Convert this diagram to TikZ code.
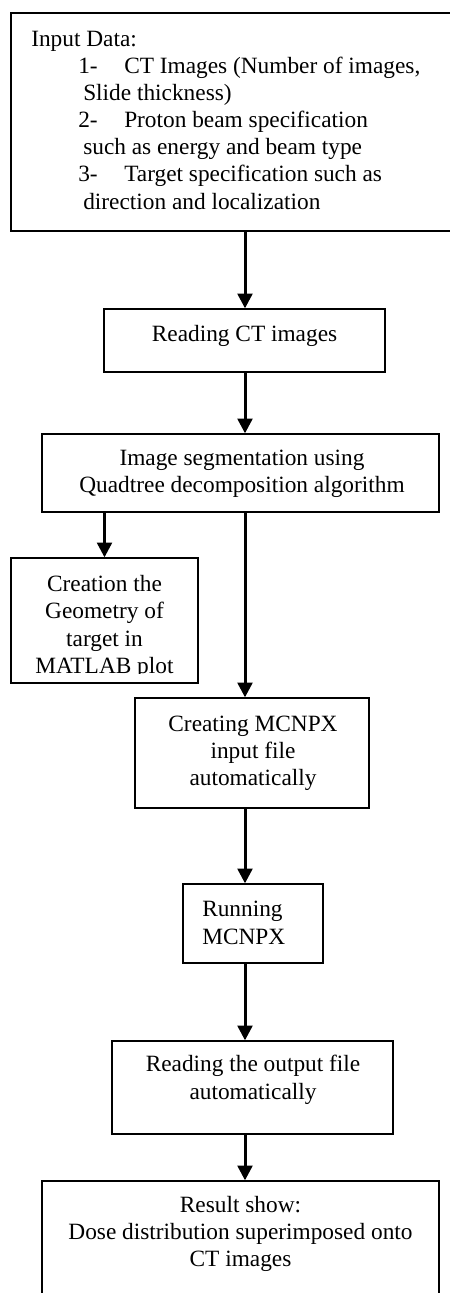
\documentclass[tikz,border=0pt]{standalone}
\usepackage{fontspec}
\setmainfont{Liberation Serif}
\usetikzlibrary{arrows.meta,fit}

\newcommand{\inputitem}[2]{\hspace*{35.25pt}\makebox[34.5pt][l]{#1}#2}
\newcommand{\inputmore}[1]{\hspace*{39pt}#1}

\tikzset{
  box/.style={draw, line width=1pt, inner sep=0pt},
  txt/.style={font=\fontsize{17.5}{20.5}\selectfont, align=center, inner sep=0pt},
  flow/.style={line width=2.25pt, -{Triangle[width=11pt,length=11pt]}}
}

\begin{document}
\begin{tikzpicture}[x=0.75pt, y=-0.75pt]
\useasboundingbox (0,0) rectangle (450,1293);
\coordinate (spine) at (245,0);

% boxes
\node[box, fit={(11,13) (470,231)}] (input) {};
\node[box, fit={(104,309) (385,372)}] (read) {};
\node[box, fit={(42,434) (439,512)}] (seg) {};
\node[box, fit={(11,558) (198,683)}] (geom) {};
\node[box, fit={(135,698) (369,808)}] (mcnp) {};
\node[box, fit={(183,884) (323,963)}] (run) {};
\node[box, fit={(112,1041) (393,1134)}] (output) {};
\node[box, fit={(42,1181) (439,1320)}] (result) {};

% texts (anchored at the baseline of the last line)
\node[txt, align=left, anchor=base west, font=\fontsize{17.5}{20.3}\selectfont] (inputtxt) at (31,209)
  {Input Data:\\
   \inputitem{1-}{CT Images (Number of images,}\\
   \inputmore{Slide thickness)}\\
   \inputitem{2-}{Proton beam specification}\\
   \inputmore{such as energy and beam type}\\
   \inputitem{3-}{Target specification such as}\\
   \inputmore{direction and localization}};
\node[txt, anchor=base] (readtxt) at (244.5,341.7) {Reading CT images};
\node[txt, anchor=base] (segtxt) at (242,492.7) {Image segmentation using\\Quadtree decomposition algorithm};
\begin{scope}
  \clip (11,558) rectangle (198,673);
  \node[txt, anchor=base] (geomtxt) at (104.5,673.5) {Creation the\\Geometry of\\target in\\MATLAB plot};
\end{scope}
\node[txt, anchor=base] (mcnptxt) at (253,785.7) {Creating MCNPX\\input file\\automatically};
\node[txt, align=left, anchor=base west] (runtxt) at (202,944.3) {Running\\MCNPX};
\node[txt, anchor=base] (outputtxt) at (253,1099.3) {Reading the output file\\automatically};
\node[txt, anchor=base] (resulttxt) at (240.5,1266.7) {Result show:\\Dose distribution superimposed onto\\CT images};

% arrows
\draw[flow] (input.south -| spine) -- (read.north -| spine);
\draw[flow] (read.south -| spine) -- (seg.north -| spine);
\draw[flow] (seg.south -| geom.north) -- (geom.north);
\draw[flow] (seg.south -| spine) -- (mcnp.north -| spine);
\draw[flow] (mcnp.south -| spine) -- (run.north -| spine);
\draw[flow] (run.south -| spine) -- (output.north -| spine);
\draw[flow] (output.south -| spine) -- (result.north -| spine);
\end{tikzpicture}
\end{document}
